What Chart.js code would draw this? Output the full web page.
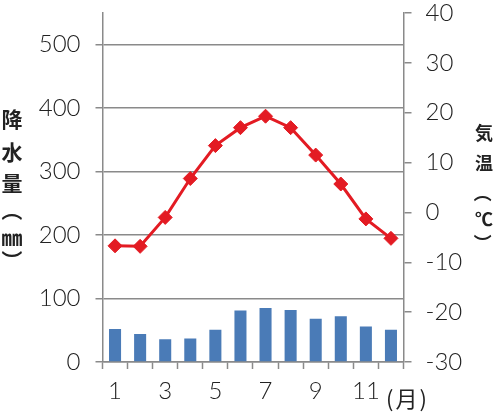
<!DOCTYPE html>
<html><head><meta charset="utf-8">
<script src="https://cdn.jsdelivr.net/npm/chart.js@4.4.1/dist/chart.umd.min.js"></script>
<style>
body{margin:0;background:#fff;}
#wrap{position:relative;width:500px;height:414px;overflow:hidden;}
canvas{position:absolute;left:0;top:0;}
.t{position:absolute;font-family:"Noto Sans CJK JP";color:#222;line-height:1;text-align:center;white-space:nowrap;}
.l{width:24px;left:0px;font-size:21px;font-weight:bold;}
.r{width:22px;left:473px;font-size:18px;font-weight:bold;}
.rot{transform:rotate(90deg);}
</style></head><body>
<div id="wrap">
<canvas id="c" width="500" height="414"></canvas>
<div class="t l" style="top:108px">降</div>
<div class="t l" style="top:141px">水</div>
<div class="t l" style="top:172px">量</div>
<div class="t l rot" style="top:200px">（</div>
<div class="t l" style="top:226px">㎜</div>
<div class="t l rot" style="top:250px">）</div>
<div class="t r" style="top:123px">気</div>
<div class="t r" style="top:153px">温</div>
<div class="t r rot" style="top:184px">（</div>
<div class="t r" style="top:209px">℃</div>
<div class="t r rot" style="top:234px">）</div>
<div class="t" style="left:386px;top:386px;font-size:22px;letter-spacing:2px;">(月)</div>
</div>
<script>
const months = ['1','2','3','4','5','6','7','8','9','10','11','12'];
const precipitation = [52, 44, 36, 37, 51, 81, 85, 82, 68, 72, 56, 51];
const temperature = [-6.7, -6.8, -1.0, 6.8, 13.4, 17.0, 19.3, 17.0, 11.5, 5.7, -1.3, -5.2];
const precipTicks = [0, 100, 200, 300, 400, 500];
const tempTicks = [-30, -20, -10, 0, 10, 20, 30, 40];

const gridColor = '#8a8a8a';
const tickFont = {family: 'Lato', size: 24, weight: '300'};

function fixV(width) {
  return s => { s.width = width; s.paddingTop = 13; s.paddingBottom = 0; };
}

new Chart(document.getElementById('c'), {
  data: {
    labels: months,
    datasets: [
      {
        type: 'line',
        data: temperature,
        yAxisID: 'y2',
        borderColor: '#e31b23',
        backgroundColor: '#e31b23',
        borderWidth: 3,
        pointStyle: 'rectRot',
        pointRadius: 7,
        pointBorderWidth: 1,
        pointBackgroundColor: '#e31b23',
        pointBorderColor: '#e31b23',
        tension: 0,
        order: 0
      },
      {
        type: 'bar',
        data: precipitation,
        yAxisID: 'y',
        backgroundColor: '#4a7bb7',
        barPercentage: 0.48,
        categoryPercentage: 1,
        order: 1
      }
    ]
  },
  options: {
    responsive: false,
    animation: false,
    events: [],
    layout: {padding: {top: 0, left: 0, right: 0, bottom: 0}},
    plugins: {legend: {display: false}, tooltip: {enabled: false}},
    scales: {
      x: {
        type: 'category',
        offset: true,
        grid: {offset: true, drawOnChartArea: false, drawTicks: true, tickLength: 7, color: gridColor, tickWidth: 1.5},
        border: {display: true, color: gridColor, width: 1.5},
        ticks: {
          autoSkip: false, maxRotation: 0, padding: 8, color: '#222', font: tickFont,
          callback: (v, i) => (i % 2 === 0 ? months[i] : '')
        },
        afterFit: s => { s.height = 52; s.paddingLeft = 0; s.paddingRight = 0; }
      },
      y: {
        position: 'left',
        min: 0,
        max: 550,
        afterBuildTicks: s => { s.ticks = precipTicks.map(v => ({value: v})); },
        grid: {color: gridColor, lineWidth: 1.5, tickLength: 7, drawTicks: true},
        border: {display: true, color: gridColor, width: 1.5},
        ticks: {padding: 15, color: '#222', font: tickFont},
        afterFit: fixV(102.5)
      },
      y2: {
        position: 'right',
        min: -30,
        max: 40,
        afterBuildTicks: s => { s.ticks = tempTicks.map(v => ({value: v})); },
        grid: {drawOnChartArea: false, color: gridColor, lineWidth: 1.5, tickLength: 8, drawTicks: true},
        border: {display: true, color: gridColor, width: 1.5},
        ticks: {padding: 14, color: '#222', font: tickFont},
        afterFit: fixV(96.5)
      }
    }
  }
});
</script>
</body></html>
